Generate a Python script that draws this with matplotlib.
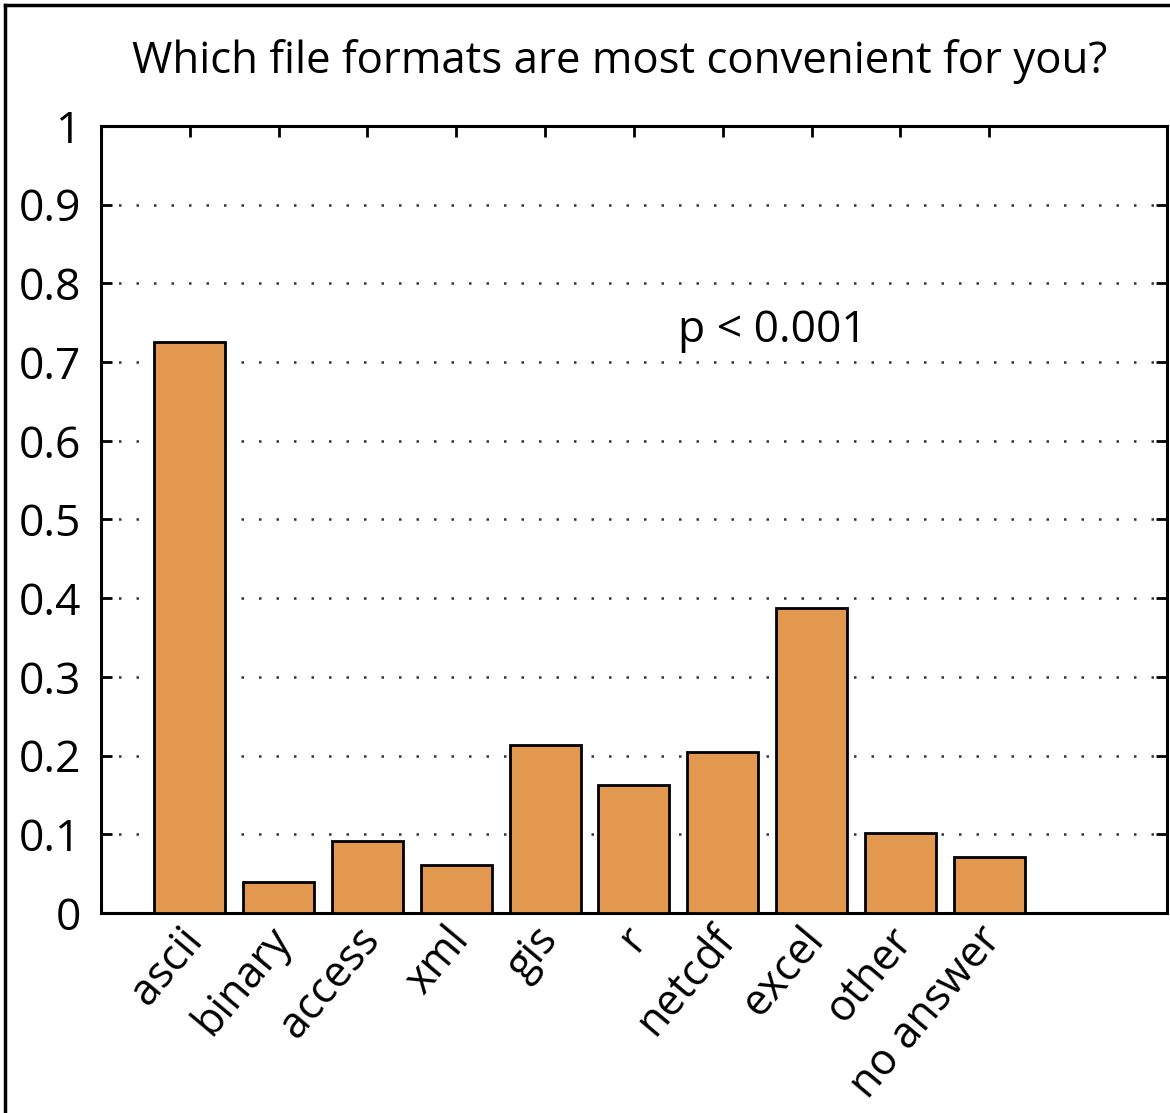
import numpy as np
import matplotlib.pyplot as plt
from matplotlib.lines import Line2D
from matplotlib.transforms import ScaledTranslation

plt.rcParams['font.family'] = ['Open Sans', 'DejaVu Sans']

# survey answers
formats = ["ascii", "binary", "access", "xml", "gis", "r", "netcdf", "excel", "other", "no answer"]
fractions = [0.725, 0.040, 0.092, 0.061, 0.214, 0.162, 0.204, 0.388, 0.102, 0.071]
yticks = [0, 0.1, 0.2, 0.3, 0.4, 0.5, 0.6, 0.7, 0.8, 0.9, 1]
ytick_labels = ["0", "0.1", "0.2", "0.3", "0.4", "0.5", "0.6", "0.7", "0.8", "0.9", "1"]

fig = plt.figure(figsize=(11.7, 11.13), dpi=100)
ax = fig.add_axes([0.0863, 0.1797, 0.9111, 0.7071])

x = np.arange(1, len(formats) + 1)
ax.bar(x, fractions, width=0.8, color="#E3984F", edgecolor="black", linewidth=2, zorder=3)

ax.set_xlim(0, 12)
ax.set_ylim(0, 1)
ax.set_yticks(yticks)
ax.set_yticklabels(ytick_labels, fontsize=32)
ax.set_xticks(x)
ax.set_xticklabels(formats, fontsize=31, rotation=50, ha="right", va="top",
                   rotation_mode="anchor")

ax.yaxis.grid(True, linestyle=(0, (1, 6)), color="#333333", linewidth=1.8, zorder=0)
ax.tick_params(direction="in", length=8, width=2, top=True, right=True,
               labeltop=False, labelright=False)
ax.tick_params(axis="y", pad=14)
ax.tick_params(axis="x", pad=4)
for s in ax.spines.values():
    s.set_linewidth(2.2)

# nudge the slanted labels a little to the left
shift = ScaledTranslation(-0.12, 0, fig.dpi_scale_trans)
for lbl in ax.get_xticklabels():
    lbl.set_transform(lbl.get_transform() + shift)

ax.text(6.5, 0.74, "p < 0.001", fontsize=32, ha="left", va="center")
fig.text(0.53, 0.945, "Which file formats are most convenient for you?", fontsize=31.5,
         ha="center", va="center")

# outer frame
fig.add_artist(Line2D([0.0045, 0.0045], [0, 0.9955], color="black", linewidth=2.5))
fig.add_artist(Line2D([0.0045, 1], [0.9955, 0.9955], color="black", linewidth=2.5))

fig.savefig("out.png", dpi=100)
